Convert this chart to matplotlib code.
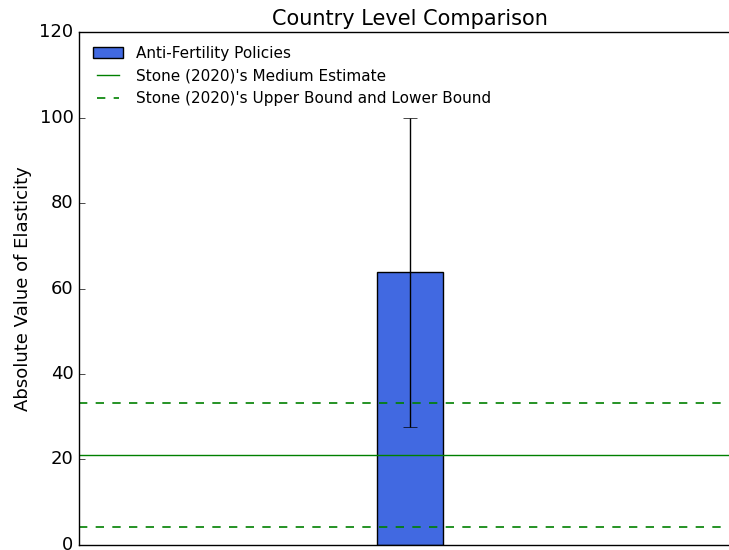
import matplotlib

matplotlib.use("Agg")
import matplotlib.pyplot as plt

# data
categories = ["Anti-Fertility Policies"]
elasticity = [63.8]
err_low = [27.5]
err_high = [100.0]
stone_medium = 21.0
stone_upper = 33.2
stone_lower = 4.1

plt.style.use("classic")
fig = plt.figure(figsize=(7.29, 5.5), dpi=100, facecolor="white")
ax = fig.add_axes([0.1084, 0.0091, 0.908, 0.9327])
ax.set_facecolor("white")

yerr = [[v - lo for v, lo in zip(elasticity, err_low)],
        [hi - v for v, hi in zip(elasticity, err_high)]]
ax.bar(range(len(categories)), elasticity, width=0.2, align="center",
       color="royalblue", edgecolor="black", yerr=yerr, ecolor="black",
       capsize=5, label=categories[0])
ax.axhline(stone_medium, color="green", linewidth=1,
           label="Stone (2020)'s Medium Estimate")
ax.axhline(stone_upper, color="green", linestyle="--", linewidth=1.2,
           label="Stone (2020)'s Upper Bound and Lower Bound")
ax.axhline(stone_lower, color="green", linestyle="--", linewidth=1.2)

ax.set_xlim(-1, 1)
ax.set_ylim(0, 120)
ax.set_xticks([])
ax.tick_params(axis="y", labelsize=13)
ax.set_ylabel("Absolute Value of Elasticity", fontsize=13)
ax.set_title("Country Level Comparison", fontsize=15)

handles, labels = ax.get_legend_handles_labels()
order = [2, 0, 1]
ax.legend([handles[i] for i in order], [labels[i] for i in order],
          loc="upper left", frameon=False, fontsize=11)

fig.savefig("out.png", dpi=100, facecolor="white")
